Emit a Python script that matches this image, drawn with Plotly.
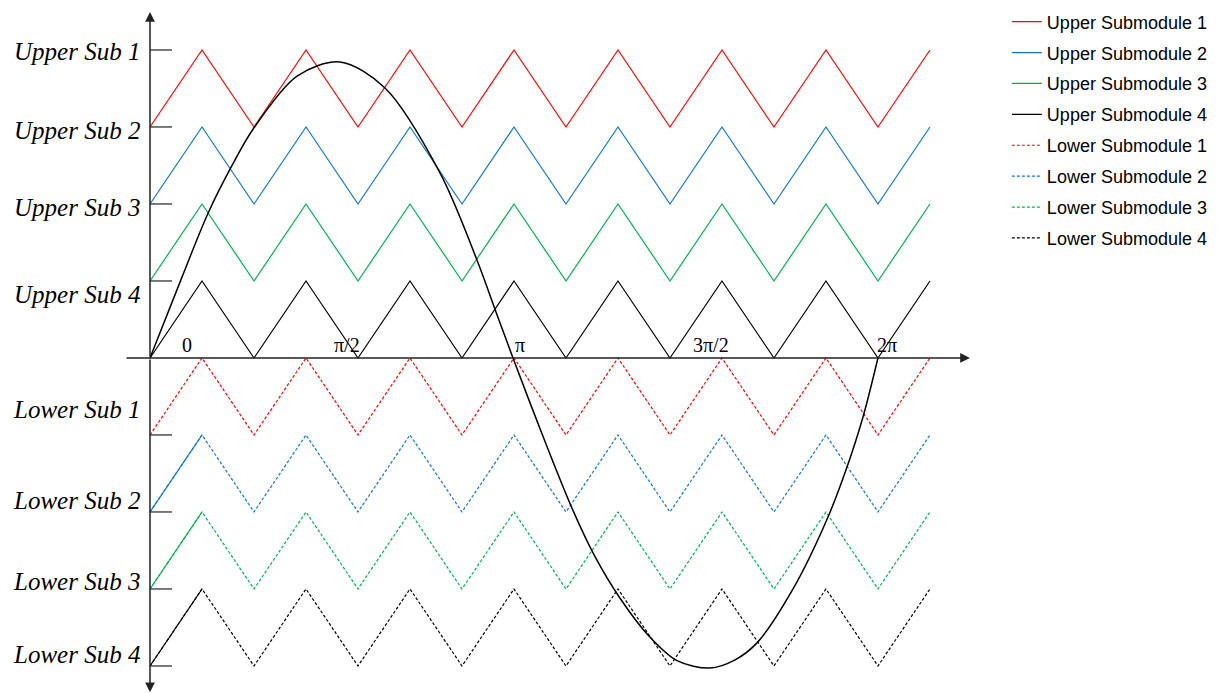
import math
import plotly.graph_objects as go

# ---------------- data ----------------
PI = math.pi
# carrier triangle vertices, in multiples of pi/7 (7 carrier periods per fundamental)
carrier_vertex_units = [0, 1, 2, 3, 4, 5, 6, 7, 8, 9, 10, 11, 12, 13, 14, 15]
carrier_unit = PI / 7

upper_names = ["Upper Submodule 1", "Upper Submodule 2", "Upper Submodule 3", "Upper Submodule 4"]
upper_low = [3, 2, 1, 0]
upper_high = [4, 3, 2, 1]
lower_names = ["Lower Submodule 1", "Lower Submodule 2", "Lower Submodule 3", "Lower Submodule 4"]
lower_low = [-1, -2, -3, -4]
lower_high = [0, -1, -2, -3]
series_colors = ["#FF0000", "#1476C8", "#00B050", "#000000"]

# reference (modulating) wave: x in rad, y in level units
ref_x = [0.0, 0.276, 0.501, 0.708, 0.889, 1.269, 1.640, 2.028, 2.503, 2.822, 2.995, 3.133,
         3.40, 3.642, 3.841, 4.057, 4.30, 4.549, 4.833, 5.05, 5.239, 5.55, 5.852, 6.016,
         6.154, 6.283]
ref_y = [0.0, 1.05, 1.88, 2.50, 2.97, 3.66, 3.844, 3.506, 2.403, 1.273, 0.56, 0.0,
         -1.05, -1.95, -2.58, -3.12, -3.60, -3.93, -4.026, -3.92, -3.70, -3.0, -2.065, -1.416,
         -0.766, 0.0]

level_labels = ["Upper Sub 1", "Upper Sub 2", "Upper Sub 3", "Upper Sub 4",
                "Lower Sub 1", "Lower Sub 2", "Lower Sub 3", "Lower Sub 4"]
level_values = [4, 3, 2, 1, -1, -2, -3, -4]
level_label_y = [3.974, 2.948, 1.948, 0.818, -0.675, -1.857, -2.909, -3.857]

xtick_text = ["0", "π/2", "π", "3π/2", "2π"]
xtick_label_x = [0.319, 1.700, 3.194, 4.842, 6.361]
xtick_label_y = 0.17

# ---------------- figure ----------------
fig = go.Figure()
carrier_x = [v * carrier_unit for v in carrier_vertex_units]


def tri(low, high):
    return [low if v % 2 == 0 else high for v in carrier_vertex_units]


for i in range(4):
    fig.add_trace(go.Scatter(
        x=carrier_x, y=tri(upper_low[i], upper_high[i]), mode="lines",
        name=upper_names[i], legendgroup=upper_names[i],
        line=dict(color=series_colors[i], width=1.2),
    ))
for i in range(4):
    fig.add_trace(go.Scatter(
        x=carrier_x, y=tri(lower_low[i], lower_high[i]), mode="lines",
        name=lower_names[i], legendgroup=lower_names[i],
        line=dict(color=series_colors[i], width=1.2, dash="3px,2px"),
    ))
# first rising edge of lower submodules 2-4 is drawn solid in the reference
for i in range(1, 4):
    fig.add_trace(go.Scatter(
        x=carrier_x[:2], y=tri(lower_low[i], lower_high[i])[:2], mode="lines",
        showlegend=False, hoverinfo="skip",
        line=dict(color=series_colors[i], width=1.2),
    ))

fig.add_trace(go.Scatter(
    x=ref_x, y=ref_y, mode="lines", line_shape="spline", showlegend=False,
    line=dict(color="#000000", width=1.5, smoothing=0.9), name="Reference",
))

# ----- axes (drawn as arrows) -----
ann = []
ann.append(dict(x=7.077, y=0, ax=-0.216, ay=0, xref="x", yref="y", axref="x", ayref="y",
                text="", showarrow=True, arrowhead=2, arrowsize=1.3, arrowwidth=1.5,
                arrowcolor="#222222"))
ann.append(dict(x=0, y=4.494, ax=0, ay=0, xref="x", yref="y", axref="x", ayref="y",
                text="", showarrow=True, arrowhead=2, arrowsize=1.3, arrowwidth=1.5,
                arrowcolor="#222222"))
ann.append(dict(x=0, y=-4.34, ax=0, ay=0, xref="x", yref="y", axref="x", ayref="y",
                text="", showarrow=True, arrowhead=2, arrowsize=1.3, arrowwidth=1.5,
                arrowcolor="#222222"))

for t, yv in zip(level_labels, level_label_y):
    ann.append(dict(x=-0.07, y=yv, xref="x", yref="y", text="<i>" + t + "</i>",
                    showarrow=False, xanchor="right", yanchor="middle",
                    font=dict(family="Liberation Serif", size=25, color="#000000")))

for t, xv in zip(xtick_text, xtick_label_x):
    ann.append(dict(x=xv, y=xtick_label_y, xref="x", yref="y", text=t, showarrow=False,
                    xanchor="center", yanchor="middle",
                    font=dict(family="Liberation Serif", size=20, color="#000000")))

shapes = []
for lv in level_values:
    shapes.append(dict(type="line", xref="x", yref="y", x0=0, x1=0.19, y0=lv, y1=lv,
                       line=dict(color="#222222", width=1.2)))

fig.update_layout(
    width=1220, height=693,
    margin=dict(l=0, r=0, t=0, b=0),
    paper_bgcolor="white", plot_bgcolor="white",
    xaxis=dict(range=[-1.2947, 9.2353], visible=False, fixedrange=True),
    yaxis=dict(range=[-4.351, 4.649], visible=False, fixedrange=True),
    annotations=ann, shapes=shapes,
    legend=dict(x=0.8253, y=0.995, xanchor="left", yanchor="top",
                font=dict(family="Liberation Sans", size=18, color="#000000"),
                tracegroupgap=4.5, bgcolor="rgba(0,0,0,0)"),
    showlegend=True,
)

fig.write_html("out.html")
